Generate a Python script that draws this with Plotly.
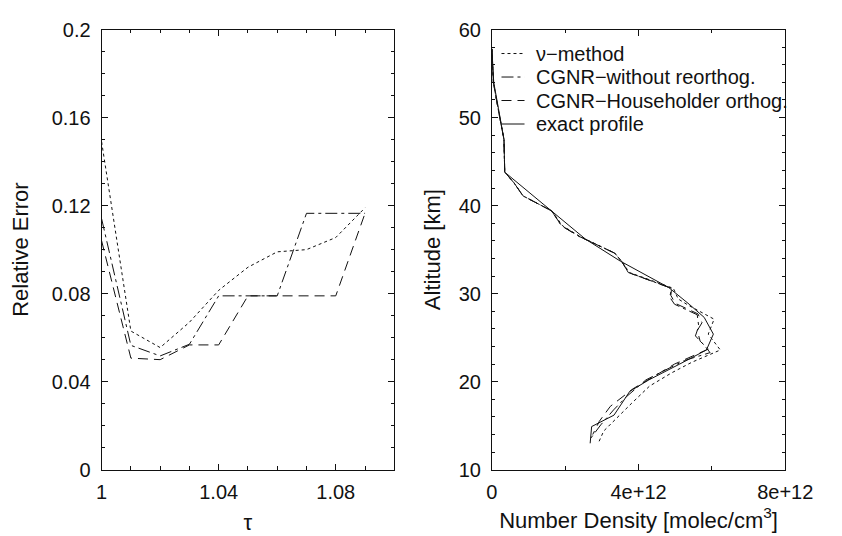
import plotly.graph_objects as go
import numpy as np

# ---------------- Left panel: relative error vs tau ----------------
tau = [1.00, 1.01, 1.02, 1.03, 1.04, 1.05, 1.06, 1.07, 1.08, 1.09]
err_nu = [0.149, 0.063, 0.0555, 0.067, 0.0815, 0.092, 0.099, 0.100, 0.1055, 0.119]
err_cgnr_noreorth = [0.114, 0.0565, 0.0517, 0.057, 0.079, 0.079, 0.079, 0.1165, 0.1165, 0.1165]
err_cgnr_householder = [0.104, 0.0507, 0.050, 0.0567, 0.0567, 0.079, 0.079, 0.079, 0.079, 0.1165]

left_xticks = [1.0, 1.04, 1.08]
left_xticklabels = ["1", "1.04", "1.08"]
left_yticks = [0, 0.04, 0.08, 0.12, 0.16, 0.2]
left_yticklabels = ["0", "0.04", "0.08", "0.12", "0.16", "0.2"]

# ---------------- Right panel: number density profiles (units of 1e12 molec/cm^3) ----------------
alt_exact = [57.8, 54.0, 51.0, 47.5, 43.8, 39.4, 36.2, 33.7, 30.7, 28.8, 27.3, 25.4, 23.6, 22.0, 20.2, 18.9, 16.2, 14.9, 13.0]
dens_exact = [0.0, 0.05, 0.18, 0.33, 0.35, 1.63, 2.55, 3.5, 4.82, 5.38, 5.79, 6.04, 5.85, 5.12, 4.28, 3.76, 3.33, 2.72, 2.68]

alt_nu = [57.8, 54.0, 51.0, 47.5, 43.8, 42.6, 41.1, 39.4, 37.7, 36.5, 34.6, 33.6, 32.4, 31.4, 30.6, 29.4, 28.7, 27.1, 25.4, 23.6, 22.2, 21.0, 19.5, 17.5, 15.9, 14.4, 13.0]
dens_nu = [0.0, 0.04, 0.17, 0.33, 0.35, 0.6, 0.85, 1.63, 1.93, 2.4, 3.35, 3.55, 3.75, 4.4, 4.95, 5.08, 5.35, 6.06, 5.9, 6.23, 5.45, 4.9, 4.3, 3.8, 3.42, 3.05, 2.9]

alt_noreorth = [57.8, 54.0, 51.0, 47.5, 43.8, 42.6, 41.1, 39.4, 37.7, 36.5, 34.6, 33.6, 32.4, 31.4, 30.6, 29.6, 28.8, 27.6, 26.3, 25.2, 24.1, 23.3, 22.4, 21.3, 20.2, 18.3, 16.8, 15.1, 13.6]
dens_noreorth = [0.0, 0.04, 0.17, 0.33, 0.35, 0.6, 0.85, 1.63, 1.9, 2.38, 3.35, 3.55, 3.72, 4.38, 4.9, 4.85, 4.98, 5.6, 5.64, 5.55, 5.8, 5.95, 5.25, 4.72, 4.2, 3.67, 3.32, 2.97, 2.7]

alt_householder = [57.8, 54.0, 51.0, 47.5, 43.8, 42.6, 41.1, 39.4, 37.7, 36.5, 34.6, 33.6, 32.4, 31.4, 30.6, 29.8, 28.9, 27.7, 26.7, 25.8, 24.6, 23.7, 22.0, 20.7, 19.2, 17.2, 15.5, 14.0]
dens_householder = [0.0, 0.04, 0.17, 0.33, 0.35, 0.6, 0.85, 1.63, 1.9, 2.38, 3.35, 3.55, 3.72, 4.38, 4.9, 4.88, 5.0, 5.62, 5.73, 5.6, 5.68, 5.9, 4.98, 4.46, 3.85, 3.23, 2.93, 2.75]

right_xticks = [0, 4e12, 8e12]
right_xticklabels = ["0", "4e+12", "8e+12"]
right_yticks = [10, 20, 30, 40, 50, 60]

names = ["\u03bd\u2212method", "CGNR\u2212without reorthog.", "CGNR\u2212Householder orthog.", "exact profile"]
dashes = ["dot", "12px,4px,3px,4px", "10px,6px", "solid"]

FONT = "Liberation Sans, Arial, Helvetica, sans-serif"
FS_TICK = 20
FS_TITLE = 22
FS_LEG = 20
BLACK = "#111111"

W, H = 842, 536
OFF = 8  # default page body margin in the exported html


def px_x(px):
    return (px - OFF) / W


def px_y(py):
    return 1 - (py - OFF) / H


fig = go.Figure()

for y, dash in zip([err_nu, err_cgnr_noreorth, err_cgnr_householder], dashes[:3]):
    fig.add_trace(go.Scatter(x=tau, y=y, mode="lines", xaxis="x", yaxis="y",
                             line=dict(color=BLACK, width=1, dash=dash), showlegend=False))

scale = 1e12
right_series = [(dens_nu, alt_nu), (dens_noreorth, alt_noreorth),
                (dens_householder, alt_householder), (dens_exact, alt_exact)]
for (d, a), name, dash in zip(right_series, names, dashes):
    fig.add_trace(go.Scatter(x=np.array(d) * scale, y=a, mode="lines", xaxis="x2", yaxis="y2",
                             name=name, line=dict(color=BLACK, width=1, dash=dash), showlegend=False))

# legend drawn in the upper left of the right panel
legend_rows = [44, 68.5, 93, 117.5]
shapes = []
annotations = []
for name, dash, row in zip(names, dashes, legend_rows):
    shapes.append(dict(type="line", xref="paper", yref="paper",
                       x0=px_x(516), x1=px_x(540), y0=px_y(row), y1=px_y(row),
                       line=dict(color=BLACK, width=1, dash=dash)))
    annotations.append(dict(text=name, xref="paper", yref="paper", x=px_x(550), y=px_y(row),
                            xanchor="left", yanchor="middle", showarrow=False,
                            font=dict(family=FONT, size=FS_LEG, color=BLACK)))

ydom = [px_y(478), px_y(19)]

axis_common = dict(showline=True, linecolor=BLACK, linewidth=1, mirror="ticks",
                   ticks="inside", ticklen=6, tickwidth=1, tickcolor=BLACK,
                   showgrid=False, zeroline=False,
                   tickfont=dict(family=FONT, size=FS_TICK, color=BLACK),
                   title_font=dict(family=FONT, size=FS_TITLE, color=BLACK))

fig.update_layout(
    width=W, height=H,
    margin=dict(l=0, r=0, t=0, b=0),
    paper_bgcolor="white", plot_bgcolor="white",
    font=dict(family=FONT, size=FS_TICK, color=BLACK),
    showlegend=False,
    shapes=shapes,
    annotations=annotations,
    xaxis=dict(domain=[px_x(99.3), px_x(404.3)], range=[1.0, 1.1], anchor="y",
               tickmode="array", tickvals=left_xticks, ticktext=left_xticklabels,
               ticklabelstandoff=4,
               minor=dict(ticks="inside", dtick=0.01, tick0=1.0, ticklen=3.5, tickcolor=BLACK),
               title=dict(text="\u03c4", standoff=12), **axis_common),
    yaxis=dict(domain=ydom, range=[0, 0.2], anchor="x",
               tickmode="array", tickvals=left_yticks, ticktext=left_yticklabels,
               ticklabelstandoff=6,
               minor=dict(ticks="inside", dtick=0.01, tick0=0, ticklen=3.5, tickcolor=BLACK),
               title=dict(text="Relative Error", standoff=19), **axis_common),
    xaxis2=dict(domain=[px_x(506), px_x(811.7)], range=[0, 8e12], anchor="y2",
                tickmode="array", tickvals=right_xticks, ticktext=right_xticklabels,
                ticklabelstandoff=4,
                minor=dict(ticks="inside", dtick=2e12, tick0=0, ticklen=3.5, tickcolor=BLACK),
                title=dict(text="Number Density [molec/cm<sup>3</sup>]", standoff=10), **axis_common),
    yaxis2=dict(domain=ydom, range=[10, 60], anchor="x2",
                tickmode="array", tickvals=right_yticks,
                ticklabelstandoff=6,
                minor=dict(ticks="inside", dtick=2, tick0=10, ticklen=3.5, tickcolor=BLACK),
                title=dict(text="Altitude [km]", standoff=11), **axis_common),
)

fig.write_html("out.html")
